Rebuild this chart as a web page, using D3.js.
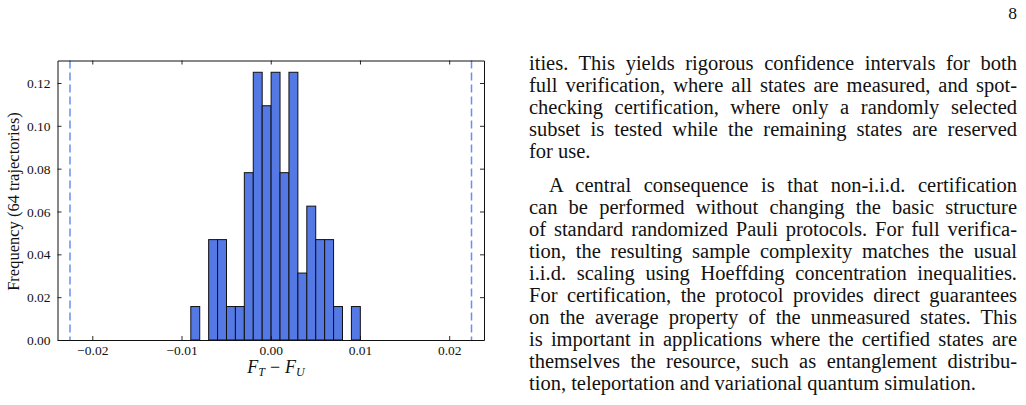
<!DOCTYPE html>
<html>
<head>
<meta charset="utf-8">
<script src="https://cdn.jsdelivr.net/npm/d3@7"></script>
<style>
  body { margin: 0; background: #fff; }
  svg { display: block; }
  text { font-family: "Liberation Serif", "DejaVu Serif", serif; fill: #111; }
</style>
</head>
<body>
<svg id="page" width="1026" height="405"></svg>
<script>
// histogram bins (edges) and counts
const binEdges = [-0.00896, -0.00796, -0.00696, -0.00596, -0.00496, -0.00396, -0.00296,
  -0.00196, -0.00096, 0.00004, 0.00104, 0.00204, 0.00304, 0.00404, 0.00504, 0.00604,
  0.00704, 0.00804, 0.00904, 0.01004];
const binCounts = [1, 0, 3, 3, 1, 1, 5, 8, 7, 8, 5, 8, 2, 4, 3, 3, 1, 0, 1];
const trajectories = 64;
const thresholds = [-0.0225, 0.0225];
const xTicks = [-0.02, -0.01, 0.00, 0.01, 0.02];
const yTicks = [0.00, 0.02, 0.04, 0.06, 0.08, 0.10, 0.12];

// body text lines on the right column
const paragraphs = [
  { indent: false, lines: [
    'ities. This yields rigorous confidence intervals for both',
    'full verification, where all states are measured, and spot-',
    'checking certification, where only a randomly selected',
    'subset is tested while the remaining states are reserved',
    'for use.'
  ]},
  { indent: true, lines: [
    'A central consequence is that non-i.i.d. certification',
    'can be performed without changing the basic structure',
    'of standard randomized Pauli protocols. For full verifica-',
    'tion, the resulting sample complexity matches the usual',
    'i.i.d. scaling using Hoeffding concentration inequalities.',
    'For certification, the protocol provides direct guarantees',
    'on the average property of the unmeasured states. This',
    'is important in applications where the certified states are',
    'themselves the resource, such as entanglement distribu-',
    'tion, teleportation and variational quantum simulation.'
  ]}
];

const page = d3.select('#page');
page.append('rect').attr('width', 1026).attr('height', 405).attr('fill', '#fff');

// page number
page.append('text')
  .attr('x', 1017).attr('y', 18.5)
  .attr('text-anchor', 'end')
  .style('font-size', '17.5px')
  .text('8');

// ---- histogram ----
const plot = { left: 57.5, right: 484, top: 60.5, bottom: 340 };

const x = d3.scaleLinear()
  .domain([-0.0239, 0.0239])
  .range([plot.left, plot.right]);

const y = d3.scaleLinear()
  .domain([0, 0.1305])
  .range([plot.bottom, plot.top]);

const bins = binCounts.map((c, i) => ({
  x0: binEdges[i], x1: binEdges[i + 1], freq: c / trajectories
}));

const chart = page.append('g');

chart.selectAll('rect.bar')
  .data(bins)
  .enter()
  .append('rect')
  .attr('class', 'bar')
  .attr('x', d => x(d.x0))
  .attr('y', d => y(d.freq))
  .attr('width', d => x(d.x1) - x(d.x0))
  .attr('height', d => y(0) - y(d.freq))
  .attr('fill', 'rgb(84,120,228)')
  .attr('stroke', '#111')
  .attr('stroke-width', 1);

// dashed threshold lines
chart.selectAll('line.thr')
  .data(thresholds)
  .enter()
  .append('line')
  .attr('class', 'thr')
  .attr('x1', d => x(d)).attr('x2', d => x(d))
  .attr('y1', plot.top).attr('y2', plot.bottom)
  .attr('stroke', '#6b8ef2')
  .attr('stroke-width', 1.5)
  .attr('stroke-dasharray', '8,4');

// axes, ticks pointing inward on all four sides
const tickFont = '13.5px';
const fmt = d3.format('.2f');

const bottomAxis = chart.append('g')
  .attr('transform', `translate(0,${plot.bottom})`)
  .call(d3.axisBottom(x).tickValues(xTicks).tickSizeInner(-4).tickSizeOuter(0).tickPadding(5.5).tickFormat(fmt));
const topAxis = chart.append('g')
  .attr('transform', `translate(0,${plot.top})`)
  .call(d3.axisTop(x).tickValues(xTicks).tickSizeInner(-4).tickSizeOuter(0).tickFormat(''));
const leftAxis = chart.append('g')
  .attr('transform', `translate(${plot.left},0)`)
  .call(d3.axisLeft(y).tickValues(yTicks).tickSizeInner(-4).tickSizeOuter(0).tickPadding(7).tickFormat(fmt));
const rightAxis = chart.append('g')
  .attr('transform', `translate(${plot.right},0)`)
  .call(d3.axisRight(y).tickValues(yTicks).tickSizeInner(-4).tickSizeOuter(0).tickFormat(''));

[bottomAxis, topAxis, leftAxis, rightAxis].forEach(g => {
  g.select('.domain').attr('stroke', '#111').attr('stroke-width', 1);
  g.selectAll('.tick line').attr('stroke', '#111').attr('stroke-width', 0.9);
  g.selectAll('.tick text')
    .style('font-family', '"Liberation Serif", serif')
    .style('font-size', tickFont)
    .attr('fill', '#222');
});
leftAxis.selectAll('.tick text').attr('dy', '0.34em');

// axis labels
page.append('text')
  .attr('transform', 'translate(18.5,201.5) rotate(-90)')
  .attr('text-anchor', 'middle')
  .style('font-size', '16.5px')
  .text('Frequency (64 trajectories)');

const xl = page.append('text')
  .attr('x', 276).attr('y', 373)
  .attr('text-anchor', 'middle')
  .style('font-size', '18px');
xl.append('tspan').style('font-style', 'italic').text('F');
xl.append('tspan').style('font-style', 'italic').style('font-size', '12px').attr('dy', 3).text('T');
xl.append('tspan').attr('dy', -3).attr('dx', 5).text('\u2212');
xl.append('tspan').style('font-style', 'italic').attr('dx', 5).text('F');
xl.append('tspan').style('font-style', 'italic').style('font-size', '12px').attr('dy', 3).text('U');

// ---- right column text, justified by stretching the word gaps ----
const col = { left: 529, right: 1017, indent: 20 };
const lineBaselines = [70, 92, 114, 136, 158, 192, 214, 236, 258, 280, 302, 324, 346, 368, 390];

let k = 0;
paragraphs.forEach(p => {
  p.lines.forEach((line, i) => {
    const last = i === p.lines.length - 1;
    const x0 = col.left + (p.indent && i === 0 ? col.indent : 0);
    const t = page.append('text')
      .attr('x', x0)
      .attr('y', lineBaselines[k++])
      .style('font-size', '20.5px')
      .text(line);
    if (!last) {
      const gaps = line.split(' ').length - 1;
      const natural = t.node().getComputedTextLength();
      t.style('word-spacing', ((col.right - x0 - natural) / gaps) + 'px');
    }
  });
});
</script>
</body>
</html>
